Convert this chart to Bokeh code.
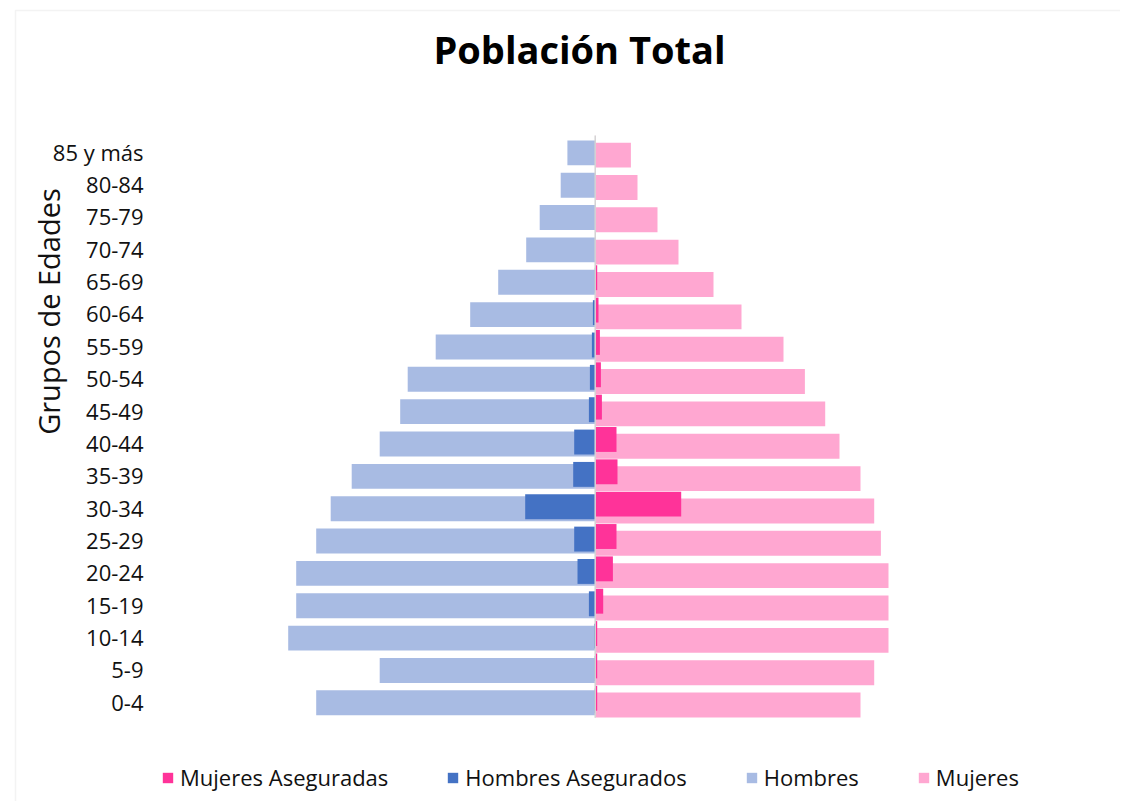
import math
from bokeh.plotting import figure
from bokeh.models import (ColumnDataSource, Range1d, Legend, LegendItem, Label,
                          FixedTicker, BoxAnnotation)
from bokeh.transform import dodge
from bokeh.embed import file_html
from bokeh.resources import INLINE

# ---- data (bottom to top) ----
grupos = ["0-4", "5-9", "10-14", "15-19", "20-24", "25-29", "30-34", "35-39", "40-44",
          "45-49", "50-54", "55-59", "60-64", "65-69", "70-74", "75-79", "80-84", "85 y más"]
hombres = [27900, 21550, 30700, 29900, 29900, 27900, 26450, 24350, 21550,
           19500, 18750, 15950, 12500, 9700, 6900, 5550, 3450, 2780]
mujeres = [26530, 27900, 29330, 29330, 29330, 28570, 27900, 26530, 24430,
           23000, 20970, 18830, 14630, 11830, 8330, 6230, 4230, 3570]
hombres_asegurados = [50, 50, 100, 630, 1770, 2100, 7000, 2200, 2100,
                      630, 530, 330, 230, 40, 20, 20, 20, 20]
mujeres_aseguradas = [200, 200, 200, 800, 1770, 2130, 8600, 2230, 2130,
                      670, 570, 470, 330, 200, 30, 30, 30, 30]

FONT = "Open Sans"
C_H = "#A8BBE3"
C_M = "#FFA7D1"
C_HA = "#4472C4"
C_MA = "#FF3399"

W, HGT = 1120, 801
n = len(grupos)

# layout helpers: pixel position -> data coordinate (frame fills the canvas)
X0_PX, XSCALE = 594.7, 100.0      # x=0 at 594.7 px, 100 units per px
ROW_TOP_PX, ROW_PX = 151.2, 32.35  # centre of the top row, row spacing


def xd(px):
    return (px - X0_PX) * XSCALE


def yd(py):
    return (n - 1) + (ROW_TOP_PX - py) / ROW_PX


src = ColumnDataSource(dict(
    pos=list(range(n)),
    h=[-v for v in hombres],
    m=mujeres,
    ha=[-v for v in hombres_asegurados],
    ma=mujeres_aseguradas,
))

p = figure(width=W, height=HGT,
           x_range=Range1d(xd(0), xd(W)),
           y_range=Range1d(yd(HGT), yd(0)),
           x_axis_type=None, title=None,
           output_backend="svg", toolbar_location=None,
           min_border_left=0, min_border_right=0,
           min_border_top=0, min_border_bottom=0)

p.background_fill_color = "white"
p.border_fill_color = "white"
p.outline_line_color = None
p.grid.visible = False

# chart-area border (left and top edges)
p.add_layout(BoxAnnotation(left=xd(15), right=xd(W + 200), top=yd(10), bottom=yd(HGT + 200),
                           fill_alpha=0, line_color="#d6d6d6", line_width=1.5))

BH = 0.77
r_h = p.hbar(y=dodge("pos", -0.035), left="h", right=0, height=BH,
             source=src, fill_color=C_H, line_color=None)
r_m = p.hbar(y=dodge("pos", -0.105), left=0, right="m", height=BH,
             source=src, fill_color=C_M, line_color=None)
r_ha = p.hbar(y=dodge("pos", 0.025), left="ha", right=0, height=BH,
              source=src, fill_color=C_HA, line_color=None)
r_ma = p.hbar(y=dodge("pos", 0.105), left=0, right="ma", height=BH,
              source=src, fill_color=C_MA, line_color=None)

# vertical category axis line at x = 0
p.segment(x0=[0], y0=[-0.5], x1=[0], y1=[n - 0.5], line_color="#d4d4d4", line_width=1.5)

ax = p.yaxis[0]
ax.fixed_location = xd(149)
ax.ticker = FixedTicker(ticks=list(range(n)))
ax.major_label_overrides = {i: g for i, g in enumerate(grupos)}
ax.axis_line_color = None
ax.major_tick_line_color = None
ax.minor_tick_line_color = None
ax.major_tick_out = 0
ax.major_tick_in = 0
ax.major_label_standoff = 6
ax.major_label_text_font = FONT
ax.major_label_text_font_size = "22px"
ax.major_label_text_color = "#111111"

p.add_layout(Label(x=xd(579), y=yd(48), text="Población Total",
                   text_align="center", text_baseline="alphabetic",
                   text_font=FONT, text_font_size="38px", text_font_style="bold",
                   text_color="#000000"))

p.add_layout(Label(x=xd(48), y=yd(311), text="Grupos de Edades", angle=math.pi / 2,
                   text_align="center", text_baseline="middle",
                   text_font=FONT, text_font_size="29px", text_color="#111111"))

legend = Legend(items=[
    LegendItem(label="Mujeres Aseguradas", renderers=[r_ma]),
    LegendItem(label="Hombres Asegurados", renderers=[r_ha]),
    LegendItem(label="Hombres", renderers=[r_h]),
    LegendItem(label="Mujeres", renderers=[r_m]),
], orientation="horizontal", location=(161, 9))
legend.label_text_font = FONT
legend.label_text_font_size = "22px"
legend.label_text_color = "#111111"
legend.glyph_width = 13
legend.glyph_height = 13
legend.label_standoff = 6
legend.spacing = 58
legend.padding = 0
legend.margin = 0
legend.border_line_color = None
legend.background_fill_alpha = 0
p.add_layout(legend, "center")

open("out.html", "w").write(file_html(p, INLINE))
